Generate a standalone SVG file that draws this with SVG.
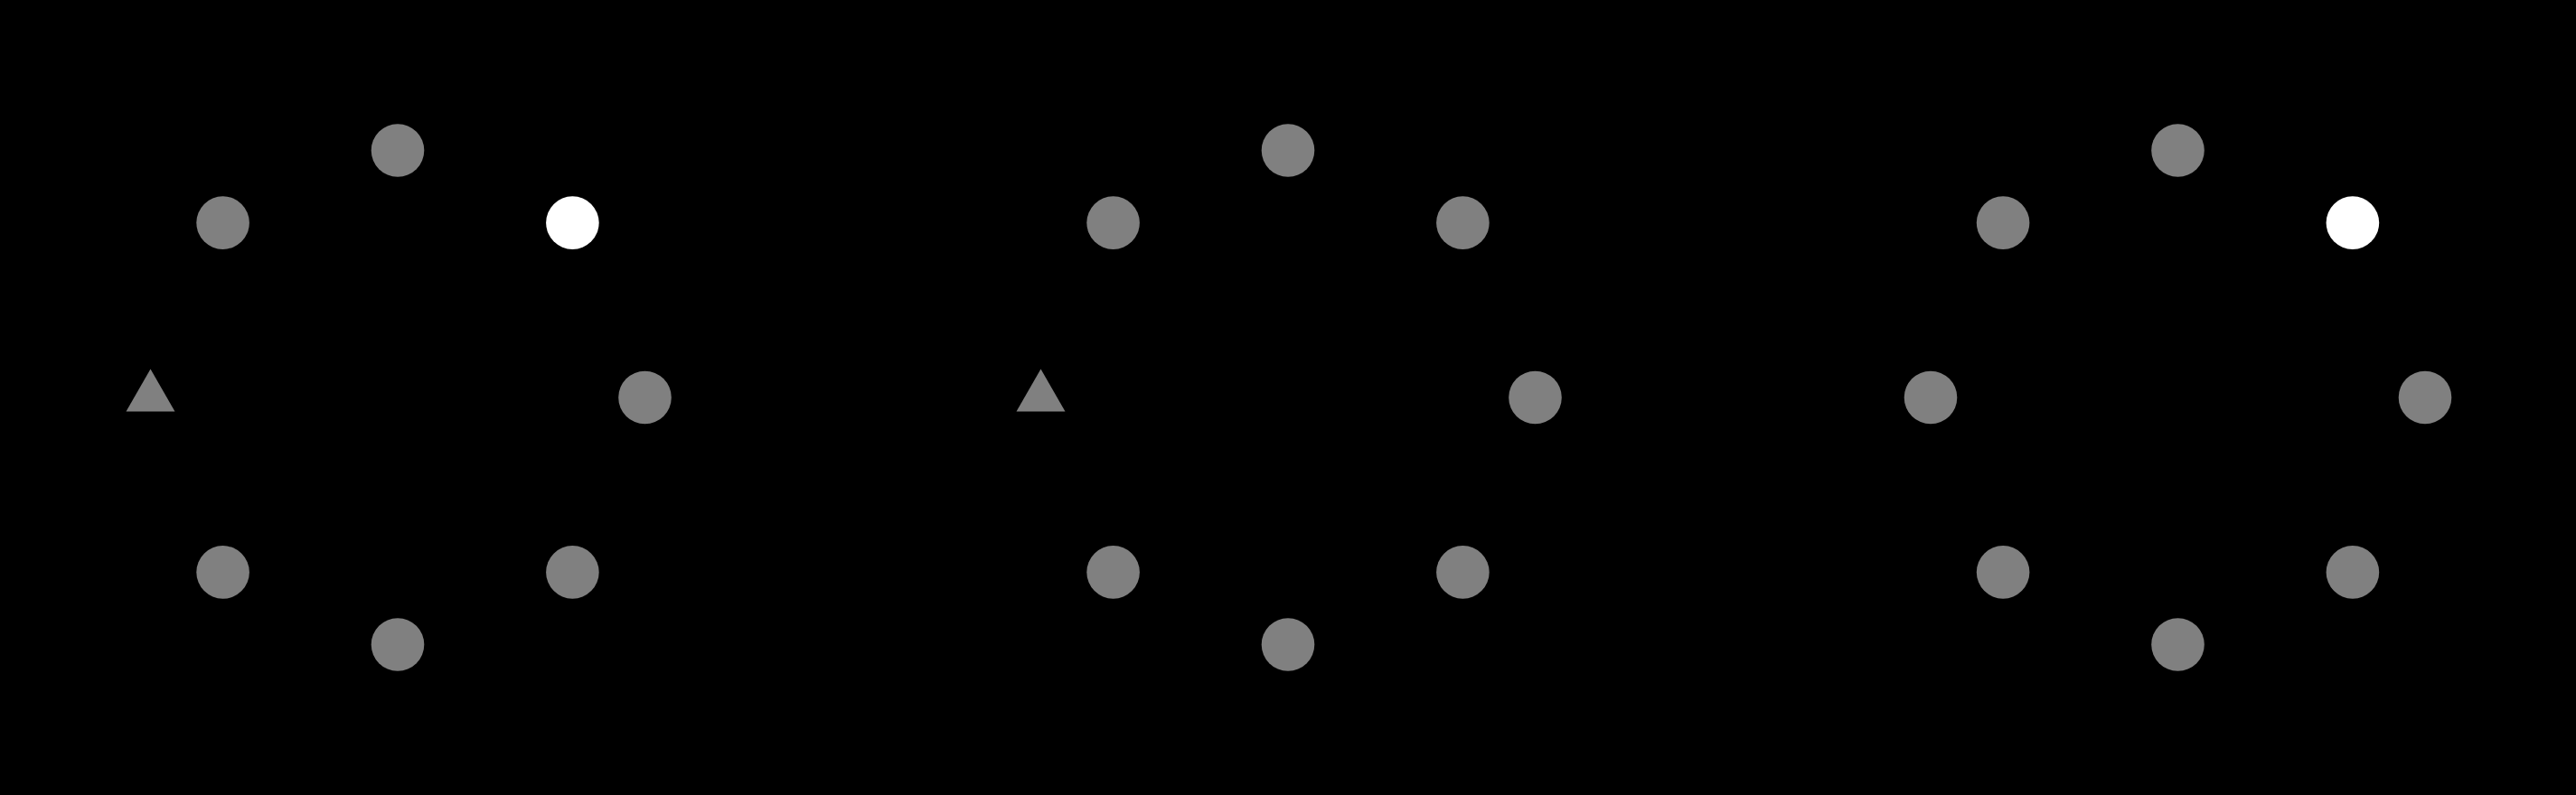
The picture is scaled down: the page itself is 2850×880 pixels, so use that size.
<svg xmlns="http://www.w3.org/2000/svg" width="2850" height="880" viewBox="0 0 2850 880">
<defs>
<style>
.n{fill:#808080}
.w{fill:#ffffff}
</style>
<circle id="dot" r="29.3"/>
<polygon id="tri" points="0,-31.5 27,15.5 -27,15.5"/>
</defs>
<rect width="2850" height="880" fill="#000"/>
<g id="connectors"/>
<g id="panel1" transform="translate(440,440)">
<g id="p1-n"><use href="#dot" class="n" x="0" y="-273.5"/></g>
<g id="p1-ne"><use href="#dot" class="w" x="193.4" y="-193.4"/></g>
<g id="p1-e"><use href="#dot" class="n" x="273.5" y="0"/></g>
<g id="p1-se"><use href="#dot" class="n" x="193.4" y="193.4"/></g>
<g id="p1-s"><use href="#dot" class="n" x="0" y="273.5"/></g>
<g id="p1-sw"><use href="#dot" class="n" x="-193.4" y="193.4"/></g>
<g id="p1-w"><use href="#tri" class="n" x="-273.5" y="0"/></g>
<g id="p1-nw"><use href="#dot" class="n" x="-193.4" y="-193.4"/></g>
</g>
<g id="panel2" transform="translate(1425,440)">
<g id="p2-n"><use href="#dot" class="n" x="0" y="-273.5"/></g>
<g id="p2-ne"><use href="#dot" class="n" x="193.4" y="-193.4"/></g>
<g id="p2-e"><use href="#dot" class="n" x="273.5" y="0"/></g>
<g id="p2-se"><use href="#dot" class="n" x="193.4" y="193.4"/></g>
<g id="p2-s"><use href="#dot" class="n" x="0" y="273.5"/></g>
<g id="p2-sw"><use href="#dot" class="n" x="-193.4" y="193.4"/></g>
<g id="p2-w"><use href="#tri" class="n" x="-273.5" y="0"/></g>
<g id="p2-nw"><use href="#dot" class="n" x="-193.4" y="-193.4"/></g>
</g>
<g id="panel3" transform="translate(2409.5,440)">
<g id="p3-n"><use href="#dot" class="n" x="0" y="-273.5"/></g>
<g id="p3-ne"><use href="#dot" class="w" x="193.4" y="-193.4"/></g>
<g id="p3-e"><use href="#dot" class="n" x="273.5" y="0"/></g>
<g id="p3-se"><use href="#dot" class="n" x="193.4" y="193.4"/></g>
<g id="p3-s"><use href="#dot" class="n" x="0" y="273.5"/></g>
<g id="p3-sw"><use href="#dot" class="n" x="-193.4" y="193.4"/></g>
<g id="p3-w"><use href="#dot" class="n" x="-273.5" y="0"/></g>
<g id="p3-nw"><use href="#dot" class="n" x="-193.4" y="-193.4"/></g>
</g>
</svg>
